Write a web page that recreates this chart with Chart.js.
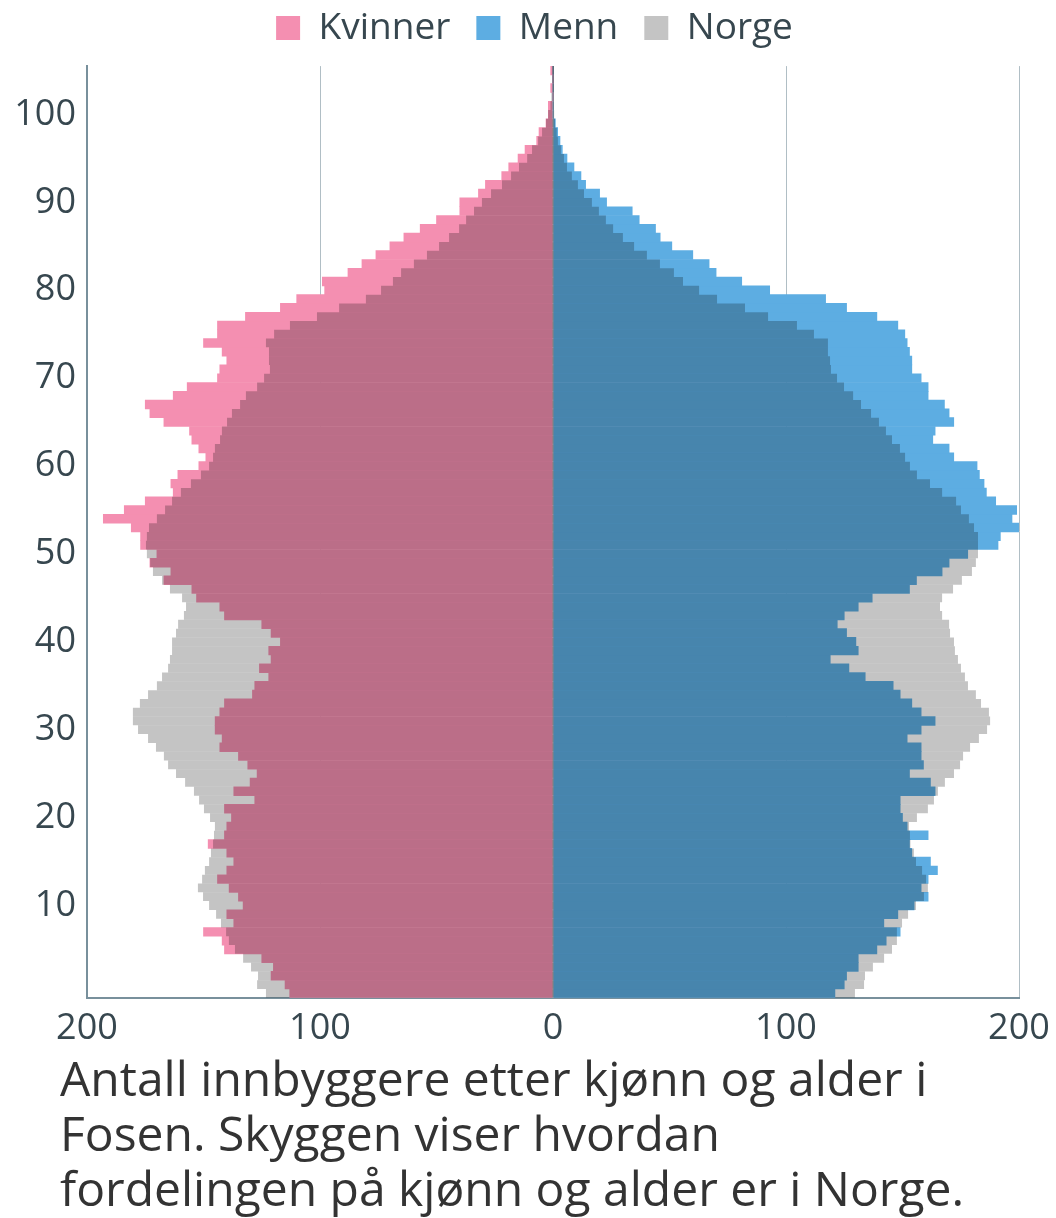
<!DOCTYPE html>
<html lang="no">
<head>
<meta charset="utf-8">
<title>Antall innbyggere etter kjønn og alder i Fosen</title>
<script src="https://cdn.jsdelivr.net/npm/chart.js@4.4.1/dist/chart.umd.min.js"></script>
<style>
  html, body { margin: 0; padding: 0; background: #fff; }
  #wrap { position: relative; width: 1056px; height: 1218px; }
  #chartBox { position: absolute; left: 0; top: 0; width: 1056px; height: 1059px; }
  #caption {
    position: absolute; left: 60px; top: 1050px; margin: 0;
    font-family: 'Open Sans', sans-serif; font-size: 48px; line-height: 55px;
    color: #333333; white-space: nowrap;
  }
</style>
</head>
<body>
<div id="wrap">
  <div id="chartBox"><canvas id="pyramid"></canvas></div>
  <p id="caption"></p>
</div>
<script>
// alder 0..105 (ett år per stolpe)
const ages = Array.from({ length: 106 }, (_, i) => i);

// Fosen, antall kvinner per alder
const kvinner = [
  113, 115, 121, 120, 125, 141, 142, 150, 137, 140,
  133, 135, 139, 144, 140, 137, 140, 148, 141, 140,
  138, 141, 128, 137, 130, 127, 131, 135, 143, 142,
  145, 145, 143, 141, 129, 128, 122, 126, 121, 122,
  117, 121, 125, 141, 143, 153, 155, 167, 164, 173,
  170, 177, 177, 181, 193, 184, 175, 163, 164, 161,
  152, 149, 152, 155, 156, 167, 173, 175, 163, 157,
  144, 143, 140, 142, 150, 144, 144, 132, 117, 110,
  98, 99, 88, 82, 76, 70, 64, 57, 50, 40,
  40, 32, 29, 22, 19, 15, 12, 7, 6, 3,
  2, 2, 0, 1, 0, 1
];

// Fosen, antall menn per alder
const menn = [
  121, 125, 126, 131, 131, 139, 143, 149, 142, 148,
  155, 161, 158, 161, 165, 162, 154, 153, 161, 152,
  150, 149, 149, 164, 162, 153, 159, 158, 158, 152,
  158, 164, 158, 154, 149, 146, 134, 127, 119, 131,
  130, 126, 122, 125, 131, 137, 153, 156, 167, 170,
  178, 191, 192, 200, 197, 199, 190, 186, 185, 183,
  182, 172, 170, 163, 164, 172, 170, 168, 161, 161,
  158, 154, 154, 153, 152, 151, 148, 139, 126, 117,
  93, 81, 70, 67, 60, 51, 46, 44, 37, 34,
  23, 20, 14, 12, 9, 6, 4, 3, 2, 1,
  0, 0, 0, 0, 0, 0
];

// Norge, skalert til samme folketall (skygge)
const norgeKvinner = [
  123.2, 127.0, 126.6, 129.6, 133.0, 136.5, 139.1, 140.3, 142.5, 144.6,
  147.6, 150.2, 152.4, 150.6, 149.4, 147.6, 146.8, 145.9, 145.5, 145.1,
  147.2, 149.8, 151.9, 154.1, 157.9, 161.8, 165.2, 167.0, 170.4, 173.8,
  178.1, 180.3, 180.3, 177.3, 173.8, 170.0, 167.8, 165.2, 164.4, 163.5,
  163.5, 161.8, 160.9, 158.4, 157.5, 159.2, 164.4, 167.8, 171.7, 172.9,
  174.3, 174.7, 174.3, 173.4, 170.0, 166.5, 163.5, 159.7, 155.4, 151.1,
  147.6, 145.9, 145.1, 142.9, 142.1, 139.9, 137.8, 134.3, 131.8, 127.0,
  124.0, 121.5, 121.9, 121.9, 123.2, 119.7, 112.9, 101.3, 91.8, 80.3,
  73.8, 68.7, 65.2, 59.7, 54.1, 48.9, 44.6, 40.3, 37.3, 33.9,
  30.5, 26.6, 21.9, 18.0, 14.6, 11.1, 9.0, 6.4, 4.7, 3.0,
  2.1, 1.1, 0.7, 0.4, 0.3, 0.2
];

const norgeMenn = [
  129.6, 133.5, 133.9, 137.3, 142.1, 145.5, 147.6, 147.6, 149.8, 152.4,
  155.8, 159.2, 160.9, 160.1, 158.4, 155.8, 154.9, 153.4, 153.2, 152.8,
  156.2, 160.9, 163.5, 165.2, 168.2, 172.1, 174.7, 176.0, 179.0, 182.8,
  186.3, 187.6, 187.1, 183.7, 181.5, 178.1, 176.8, 175.1, 173.8, 172.5,
  172.1, 170.4, 170.0, 167.0, 166.1, 167.0, 171.7, 175.5, 179.8, 181.5,
  182.4, 182.4, 182.4, 180.7, 178.5, 175.1, 173.0, 167.0, 161.8, 156.2,
  153.2, 151.1, 148.9, 145.5, 142.9, 139.9, 136.5, 132.2, 128.8, 124.9,
  121.9, 119.3, 118.9, 118.0, 118.0, 112.0, 104.7, 92.3, 82.4, 70.4,
  62.7, 55.8, 51.9, 45.9, 40.3, 34.8, 30.0, 25.8, 22.7, 19.7,
  16.7, 13.3, 10.7, 8.1, 6.0, 4.7, 3.4, 2.1, 1.6, 0.9,
  0.5, 0.4, 0.3, 0.2, 0.1, 0.1
];

const xTicks = [-200, -100, 0, 100, 200];
const caption = [
  'Antall innbyggere etter kjønn og alder i',
  'Fosen. Skyggen viser hvordan',
  'fordelingen på kjønn og alder er i Norge.'
];

const pink = '#f48fb1';
const blue = '#5dade2';
const shadow = 'rgba(0,0,0,0.23)';
const textColor = '#37474f';

document.getElementById('caption').innerHTML = caption.join('<br>');

const bar = { grouped: false, barPercentage: 1, categoryPercentage: 1, borderWidth: 0 };

// flytt forklaringen litt mot høyre, slik at den står over plottet
const legendShift = {
  id: 'legendShift',
  afterLayout(chart) {
    chart.legend.left += 25;
    chart.legend.right += 25;
  },
};

new Chart(document.getElementById('pyramid'), {
  type: 'bar',
  data: {
    labels: ages,
    datasets: [
      { ...bar, label: 'Kvinner', data: kvinner.map(v => -v), backgroundColor: pink, order: 2 },
      { ...bar, label: 'Menn', data: menn, backgroundColor: blue, order: 2 },
      { ...bar, label: 'Norge', data: norgeKvinner.map(v => -v), backgroundColor: shadow, order: 1, inflateAmount: 0 },
      { ...bar, label: 'Norge', data: norgeMenn, backgroundColor: shadow, order: 1, inflateAmount: 0 },
    ],
  },
  plugins: [legendShift],
  options: {
    indexAxis: 'y',
    responsive: true,
    maintainAspectRatio: false,
    animation: false,
    layout: { padding: { left: 0, right: 37, top: -16.5, bottom: 0 } },
    scales: {
      x: {
        min: -200,
        max: 200,
        afterBuildTicks: (scale) => { scale.ticks = xTicks.map(v => ({ value: v })); },
        afterFit: (scale) => { scale.paddingLeft = 0; scale.paddingRight = 0; },
        ticks: {
          callback: (v) => Math.abs(v),
          color: textColor,
          font: { family: 'Open Sans', size: 36 },
          padding: 9,
          maxRotation: 0,
        },
        grid: {
          color: (c) => (c.tick && c.tick.value === 0 ? '#707070' : '#b0bec5'),
          lineWidth: (c) => (c.tick && c.tick.value === 0 ? 2 : 1),
          drawTicks: false,
        },
        border: { color: '#78909c', width: 2 },
      },
      y: {
        reverse: true,
        afterFit: (scale) => { scale.width = 87; },
        ticks: {
          autoSkip: false,
          callback: (v) => (ages[v] % 10 === 0 && ages[v] > 0 ? ages[v] : ''),
          color: textColor,
          font: { family: 'Open Sans', size: 36 },
          padding: 11,
        },
        grid: { display: false, drawTicks: false },
        border: { color: '#78909c', width: 2 },
      },
    },
    plugins: {
      tooltip: { enabled: false },
      legend: {
        position: 'top',
        labels: {
          boxWidth: 24,
          boxHeight: 24,
          padding: 26,
          color: textColor,
          font: { family: 'Open Sans', size: 37 },
          filter: (item) => item.datasetIndex !== 3,
          sort: (a, b) => a.datasetIndex - b.datasetIndex,
        },
      },
      // tom luke mellom forklaring og plottet
      subtitle: {
        display: true,
        position: 'top',
        weight: 500,
        text: '',
        font: { size: 8, lineHeight: 1.2 },
        padding: 0,
      },
      title: { display: false },
    },
  },
});
</script>
</body>
</html>
